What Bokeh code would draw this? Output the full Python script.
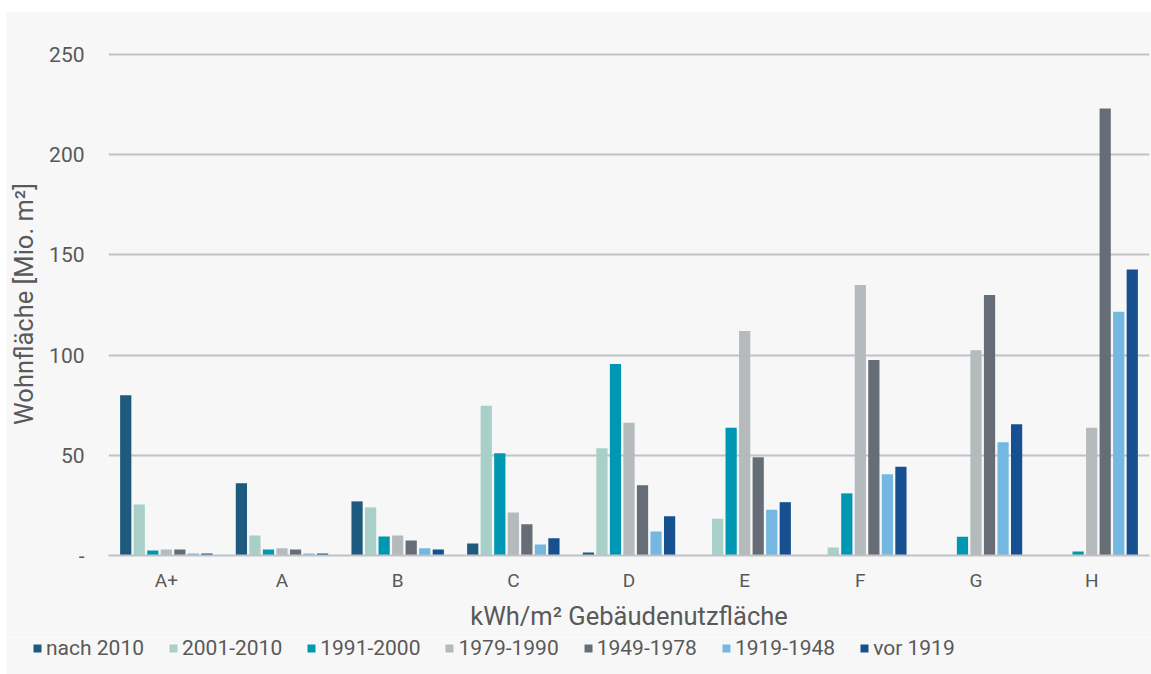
from bokeh.plotting import figure
from bokeh.layouts import column
from bokeh.models import (FactorRange, Range1d, FixedTicker, Legend, LegendItem,
                          ColumnDataSource)
from bokeh.transform import dodge
from bokeh.embed import file_html
from bokeh.resources import INLINE

categories = ["A+", "A", "B", "C", "D", "E", "F", "G", "H"]
series_names = ["nach 2010", "2001-2010", "1991-2000", "1979-1990",
                "1949-1978", "1919-1948", "vor 1919"]
nach_2010 = [80, 36, 27, 6, 1.5, 0, 0, 0, 0]
s_2001_2010 = [25.5, 10, 24, 74.7, 53.5, 18.3, 4, 0, 0]
s_1991_2000 = [2.5, 3, 9.5, 51, 95.6, 63.7, 31, 9.3, 2]
s_1979_1990 = [3, 3.6, 10, 21.5, 66.2, 112, 135, 102.4, 63.7]
s_1949_1978 = [3, 3, 7.5, 15.6, 35, 49, 97.5, 130, 223]
s_1919_1948 = [1, 1, 3.6, 5.5, 12, 22.8, 40.5, 56.5, 121.6]
vor_1919 = [1, 1, 3, 8.6, 19.6, 26.6, 44.3, 65.5, 142.7]
y_ticks = [0, 50, 100, 150, 200, 250]

series_values = [nach_2010, s_2001_2010, s_1991_2000, s_1979_1990,
                 s_1949_1978, s_1919_1948, vor_1919]
colors = ["#1d5a7d", "#a8d0c8", "#0097b3", "#b5babd", "#666d76", "#74b8e2", "#175091"]
BG = "#f7f7f7"
TXT = "#595959"

data = {"cat": categories}
keys = []
for i, vals in enumerate(series_values):
    k = f"s{i}"
    keys.append(k)
    data[k] = vals
src = ColumnDataSource(data)

p = figure(x_range=FactorRange(*categories), y_range=Range1d(0, 251),
           width=1145, height=626, output_backend="svg", toolbar_location=None,
           min_border_left=101, min_border_right=2, min_border_top=41,
           min_border_bottom=82)
p.margin = (11, 0, 0, 6)
p.background_fill_color = BG
p.border_fill_color = BG
p.outline_line_color = None

step = 0.117
for i, k in enumerate(keys):
    p.vbar(x=dodge("cat", (i - 3) * step, range=p.x_range), top=k, width=0.097,
           source=src, fill_color=colors[i], line_color=None)

p.xgrid.grid_line_color = None
p.ygrid.grid_line_color = "#c0c2c4"
p.ygrid.grid_line_width = 2
p.yaxis.ticker = FixedTicker(ticks=y_ticks)
p.yaxis.major_label_overrides = {0: "-"}
p.yaxis.axis_line_color = None
p.yaxis.major_label_standoff = 24
p.yaxis.axis_label = "Wohnfläche [Mio. m²]"
p.yaxis.axis_label_standoff = 7

p.xaxis.axis_line_color = "#c0c2c4"
p.xaxis.axis_line_width = 2
p.xaxis.major_label_standoff = 13
p.xaxis.axis_label = "kWh/m² Gebäudenutzfläche"
p.xaxis.axis_label_standoff = 6

for ax in (p.xaxis[0], p.yaxis[0]):
    ax.major_tick_line_color = None
    ax.minor_tick_line_color = None
    ax.major_tick_out = 0
    ax.major_tick_in = 0
    ax.minor_tick_out = 0
    ax.minor_tick_in = 0
    ax.major_label_text_font = "Roboto"
    ax.major_label_text_color = TXT
    ax.axis_label_text_font = "Roboto"
    ax.axis_label_text_font_size = "25.5px"
    ax.axis_label_text_font_style = "normal"
    ax.axis_label_text_color = TXT
p.xaxis.major_label_text_font_size = "19px"
p.yaxis.major_label_text_font_size = "21px"

# legend strip below the chart (hidden renderers carry the legend swatches)
p2 = figure(width=1145, height=37, output_backend="svg", toolbar_location=None,
            x_range=FactorRange(*categories), y_range=Range1d(0, 1),
            min_border_left=0, min_border_right=0, min_border_top=0, min_border_bottom=0)
p2.margin = (0, 0, 0, 6)
p2.background_fill_color = BG
p2.border_fill_color = BG
p2.outline_line_color = None
p2.axis.visible = False
p2.grid.visible = False
for fig in (p, p2):
    try:
        fig.frame_align = False
    except Exception:
        pass
leg_renderers = []
for k, c in zip(keys, colors):
    r = p2.vbar(x="cat", top=k, width=0.1, source=src, fill_color=c, line_color=None)
    r.visible = False
    leg_renderers.append(r)
items = [LegendItem(label=n, renderers=[r]) for n, r in zip(series_names, leg_renderers)]
legend = Legend(items=items, orientation="horizontal", location=(26, 14),
                padding=0, margin=0, spacing=24, label_standoff=4,
                glyph_width=10, glyph_height=10, inactive_fill_alpha=0,
                border_line_color=None, background_fill_alpha=0,
                label_text_font="Roboto", label_text_font_size="21px",
                label_text_color=TXT)
p2.add_layout(legend, "center")

layout = column(p, p2, spacing=0)
open("out.html", "w").write(file_html(layout, INLINE))
